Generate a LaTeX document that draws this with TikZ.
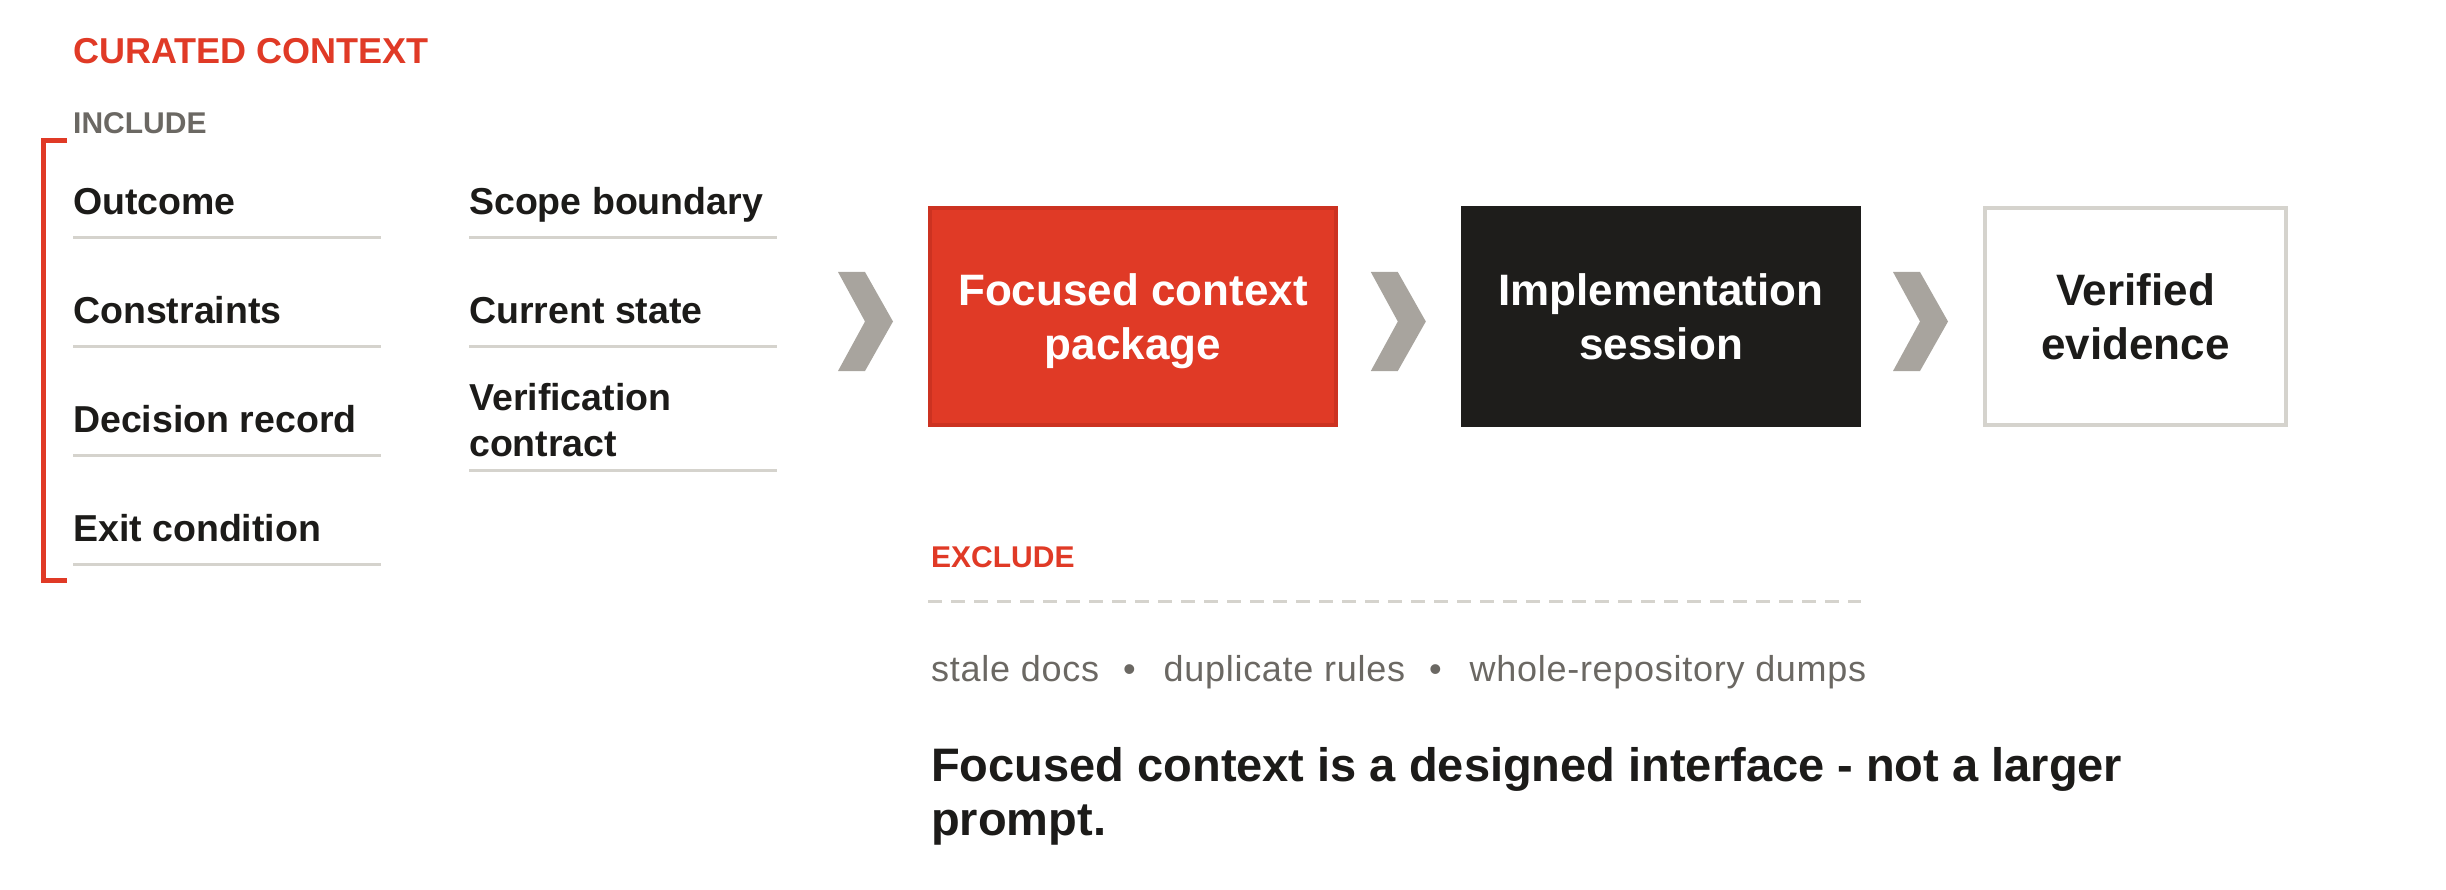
\documentclass[tikz,border=0pt]{standalone}
\usepackage{fontspec}
\setmainfont{Liberation Sans}
\usetikzlibrary{calc}

\definecolor{accent}{HTML}{E03A26}
\definecolor{accentedge}{HTML}{CC3221}
\definecolor{ink}{HTML}{1C1B19}
\definecolor{muted}{HTML}{6B6863}
\definecolor{rulegray}{HTML}{D5D3CD}
\definecolor{chevgray}{HTML}{A8A49E}
\definecolor{panel}{HTML}{1E1D1B}

\begin{document}
\begin{tikzpicture}[x=1pt,y=-1pt,
    head/.style={anchor=base west, inner sep=0pt, font=\fontsize{36}{43}\selectfont\bfseries},
    sublabel/.style={anchor=base west, inner sep=0pt, font=\fontsize{30}{36}\selectfont\bfseries},
    item/.style={anchor=base west, inner sep=0pt, text=ink, align=left, font=\fontsize{37.5}{46}\selectfont\bfseries},
    rule/.style={draw=rulegray, line width=3pt},
    card/.style={minimum height=217, inner sep=0pt, align=center, text depth=0pt, font=\fontsize{44}{54}\selectfont\bfseries},
    chevron/.style={fill=chevgray},
  ]
    \useasboundingbox (0,0) rectangle (2446,890);

    \node[head, text=accent] (curated) at (73,64) {CURATED CONTEXT};
    \node[sublabel, text=muted] (include) at (73,134) {INCLUDE};
    \draw[accent, line width=5pt] (67,140.5) -- (43.5,140.5) -- (43.5,580.5) -- (67,580.5);

    % included items, two columns
    \foreach \t [count=\i from 0] in {Outcome,Constraints,Decision record,Exit condition} {
        \node[item] (incl\i) at (73,{215+108.7*\i}) {\t};
        \draw[rule] ($(incl\i.base west)+(0,23)$) -- ++(308,0);
    }
    \foreach \t [count=\i from 0] in {Scope boundary,Current state} {
        \node[item] (incr\i) at (469,{215+108.7*\i}) {\t};
        \draw[rule] ($(incr\i.base west)+(0,23)$) -- ++(308,0);
    }
    % base of a two-line node sits on its last line
    \node[item] (verif) at (469,456) {Verification\\contract};
    \draw[rule] ($(verif.base west)+(0,14)$) -- ++(308,0);

    % pipeline
    \node[card, fill=accent, draw=accentedge, line width=4pt, minimum width=406, text=white] (pkg) at (1133,316.5) {Focused context\\package};
    \node[card, fill=panel, minimum width=400, minimum height=221, text=white] (impl) at (1661,316.5) {Implementation\\session};
    \node[card, fill=white, draw=rulegray, line width=4pt, minimum width=301, text=ink] (evid) at (2135.5,316.5) {Verified\\evidence};
    \foreach \b in {pkg,impl,evid}
        \fill[chevron] ($(\b.west)+(-90,-44.5)$) -- ++(27,0) -- ++(28,49.5) -- ++(-28,49.5) -- ++(-27,0) -- ++(27,-49.5) -- cycle;

    % excluded
    \node[sublabel, text=accent] (exclude) at (931,567) {EXCLUDE};
    \draw[rulegray, line width=3pt, dash pattern=on 14pt off 9pt] (pkg.west |- 0,601) -- (impl.east |- 0,601);
    \node[anchor=base west, inner sep=0pt, text=muted, font=\fontsize{36}{42}\selectfont\addfontfeatures{LetterSpace=2}] (dropped) at (931,681)
        {stale docs\hspace{24pt}•\hspace{28pt}duplicate rules\hspace{24pt}•\hspace{28pt}whole-repository dumps};

    \node[anchor=base west, inner sep=0pt, text=ink, align=left, font=\fontsize{47}{54}\selectfont\bfseries] (takeaway) at (931,835)
        {Focused context is a designed interface - not a larger\\prompt.};
\end{tikzpicture}
\end{document}
